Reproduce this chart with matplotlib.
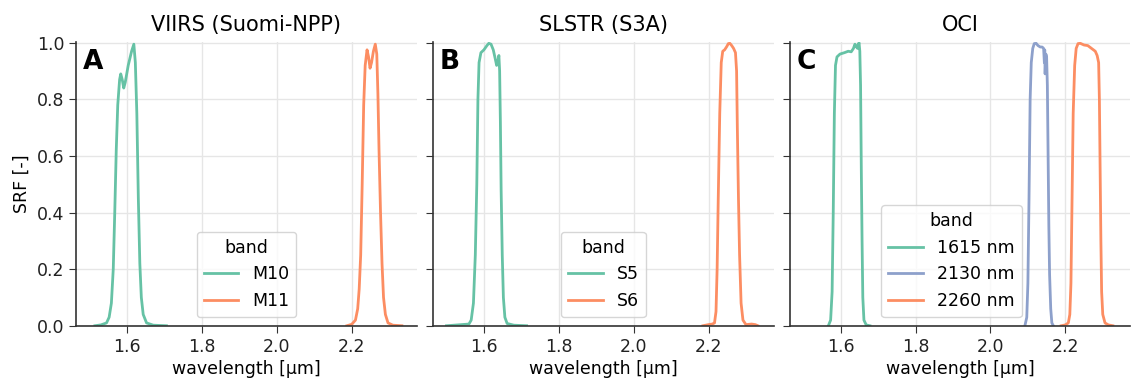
import matplotlib
matplotlib.use("Agg")
import matplotlib.pyplot as plt

# spectral response functions, wavelength in um, SRF normalised to 1
viirs_m10_wl = [1.514, 1.530, 1.545, 1.552, 1.558, 1.563, 1.567, 1.571, 1.575, 1.580,
                1.583, 1.587, 1.591, 1.595, 1.603, 1.612, 1.618, 1.622, 1.626, 1.630,
                1.634, 1.638, 1.643, 1.652, 1.670, 1.705]
viirs_m10 = [0.0, 0.003, 0.01, 0.03, 0.08, 0.2, 0.4, 0.62, 0.78, 0.87,
             0.89, 0.87, 0.84, 0.86, 0.92, 0.97, 0.995, 0.93, 0.75, 0.45,
             0.22, 0.10, 0.04, 0.01, 0.002, 0.0]

viirs_m11_wl = [2.187, 2.200, 2.210, 2.216, 2.220, 2.224, 2.228, 2.232, 2.236, 2.241,
                2.245, 2.249, 2.253, 2.258, 2.263, 2.267, 2.270, 2.273, 2.277, 2.281,
                2.285, 2.290, 2.297, 2.310, 2.334]
viirs_m11 = [0.0, 0.005, 0.02, 0.06, 0.13, 0.25, 0.5, 0.78, 0.92, 0.975,
             0.95, 0.91, 0.93, 0.97, 0.995, 0.96, 0.82, 0.62, 0.40, 0.22,
             0.10, 0.04, 0.01, 0.002, 0.0]

slstr_s5_wl = [1.500, 1.520, 1.540, 1.560, 1.566, 1.572, 1.577, 1.581, 1.584, 1.587,
               1.592, 1.600, 1.608, 1.613, 1.619, 1.625, 1.630, 1.634, 1.638, 1.640,
               1.642, 1.644, 1.646, 1.649, 1.652, 1.656, 1.662, 1.680, 1.714]
slstr_s5 = [0.0, 0.002, 0.004, 0.006, 0.02, 0.08, 0.25, 0.5, 0.8, 0.93,
            0.965, 0.975, 0.99, 0.998, 0.995, 0.975, 0.945, 0.92, 0.94, 0.955,
            0.90, 0.72, 0.48, 0.25, 0.10, 0.03, 0.008, 0.002, 0.0]

slstr_s6_wl = [2.185, 2.200, 2.210, 2.216, 2.220, 2.223, 2.226, 2.230, 2.234, 2.238,
               2.243, 2.248, 2.253, 2.257, 2.262, 2.267, 2.272, 2.275, 2.277, 2.280,
               2.283, 2.287, 2.292, 2.300, 2.315, 2.325, 2.332]
slstr_s6 = [0.0, 0.004, 0.006, 0.01, 0.05, 0.2, 0.45, 0.75, 0.93, 0.97,
            0.975, 0.985, 0.997, 0.998, 0.99, 0.98, 0.965, 0.90, 0.70, 0.45,
            0.25, 0.08, 0.02, 0.004, 0.006, 0.004, 0.0]

oci_1615_wl = [1.567, 1.573, 1.577, 1.580, 1.583, 1.586, 1.590, 1.598, 1.610, 1.620,
               1.628, 1.634, 1.638, 1.642, 1.645, 1.647, 1.649, 1.651, 1.653, 1.655,
               1.657, 1.659, 1.662, 1.668, 1.678]
oci_1615 = [0.0, 0.02, 0.12, 0.4, 0.75, 0.92, 0.95, 0.96, 0.965, 0.97,
            0.968, 0.98, 0.995, 0.985, 0.98, 0.995, 1.0, 0.97, 0.85, 0.55,
            0.30, 0.10, 0.02, 0.003, 0.0]

oci_2130_wl = [2.092, 2.097, 2.100, 2.103, 2.106, 2.109, 2.113, 2.117, 2.122, 2.127,
               2.133, 2.138, 2.142, 2.144, 2.145, 2.146, 2.148, 2.150, 2.152, 2.154,
               2.156, 2.158, 2.161, 2.164, 2.168]
oci_2130 = [0.0, 0.03, 0.15, 0.45, 0.8, 0.93, 0.98, 0.997, 0.998, 0.99,
            0.985, 0.985, 0.98, 0.93, 0.975, 0.89, 0.96, 0.95, 0.85, 0.6,
            0.35, 0.18, 0.06, 0.01, 0.0]

oci_2260_wl = [2.189, 2.200, 2.208, 2.212, 2.215, 2.218, 2.221, 2.225, 2.229, 2.234,
               2.240, 2.250, 2.260, 2.268, 2.275, 2.280, 2.285, 2.289, 2.291, 2.293,
               2.295, 2.297, 2.300, 2.306, 2.315, 2.327]
oci_2260 = [0.0, 0.003, 0.01, 0.04, 0.15, 0.45, 0.75, 0.92, 0.98, 0.997,
            0.998, 0.992, 0.99, 0.982, 0.975, 0.97, 0.955, 0.93, 0.8, 0.55,
            0.3, 0.12, 0.04, 0.01, 0.003, 0.0]

green, orange, blue = "#66c2a5", "#fc8d62", "#8da0cb"

panels = [
    ("VIIRS (Suomi-NPP)", "A", [("M10", viirs_m10_wl, viirs_m10, green),
                                ("M11", viirs_m11_wl, viirs_m11, orange)]),
    ("SLSTR (S3A)", "B", [("S5", slstr_s5_wl, slstr_s5, green),
                          ("S6", slstr_s6_wl, slstr_s6, orange)]),
    ("OCI", "C", [("1615 nm", oci_1615_wl, oci_1615, green),
                  ("2130 nm", oci_2130_wl, oci_2130, blue),
                  ("2260 nm", oci_2260_wl, oci_2260, orange)]),
]
legend_x = [0.5, 0.5, 0.475]

plt.rcParams["font.family"] = "DejaVu Sans"
fig, axes = plt.subplots(1, 3, figsize=(11.35, 3.81), dpi=100, sharex=True, sharey=True)
fig.subplots_adjust(left=0.067, right=0.996, bottom=0.145, top=0.89, wspace=0.047)

for ax, (title, letter, bands), lx in zip(axes, panels, legend_x):
    for name, wl, srf, col in bands:
        ax.plot(wl, srf, color=col, lw=2, label=name)
    ax.set_title(title, fontsize=15, pad=8)
    ax.text(0.02, 0.975, letter, transform=ax.transAxes, fontsize=19,
            fontweight="bold", va="top", ha="left")
    ax.set_xlabel("wavelength [µm]", fontsize=12.5, labelpad=3)
    ax.grid(True, color="#e6e6e6", lw=1)
    ax.set_axisbelow(True)
    for s in ["top", "right"]:
        ax.spines[s].set_visible(False)
    for s in ["left", "bottom"]:
        ax.spines[s].set_color("#333333")
        ax.spines[s].set_linewidth(1.2)
    ax.tick_params(labelsize=12.5, colors="#333333", labelcolor="#222222", length=5)
    ax.legend(title="band", loc="lower center", bbox_to_anchor=(lx, 0.0),
              fontsize=12.5, title_fontsize=12.5, framealpha=0.8, edgecolor="#cccccc")

axes[0].set_xlim(1.4636, 2.374)
axes[0].set_ylim(0, 1.003)
axes[0].set_xticks([1.6, 1.8, 2.0, 2.2])
axes[0].set_yticks([0.0, 0.2, 0.4, 0.6, 0.8, 1.0])
axes[0].set_ylabel("SRF [-]", fontsize=12.5)

fig.savefig("out.png", dpi=100)
